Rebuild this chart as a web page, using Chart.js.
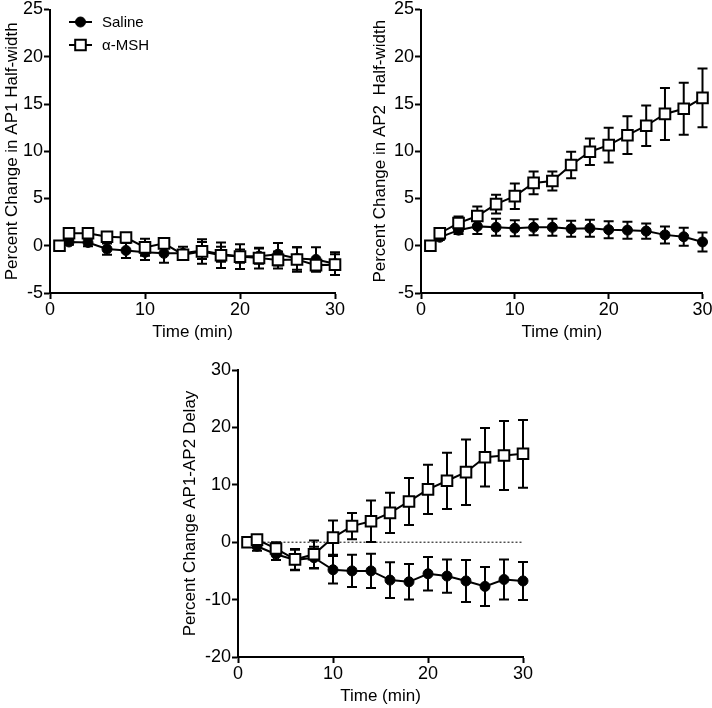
<!DOCTYPE html>
<html>
<head>
<meta charset="utf-8">
<script src="https://cdn.jsdelivr.net/npm/chart.js@4.4.1/dist/chart.umd.min.js"></script>
<style>
    body { margin: 0; background: #fff; width: 712px; height: 708px; position: relative; overflow: hidden; }
    canvas { position: absolute; }
</style>
</head>
<body>
<canvas id="ap1" width="356" height="345" style="left:0;top:0"></canvas>
<canvas id="ap2" width="356" height="345" style="left:356px;top:0"></canvas>
<canvas id="delay" width="360" height="363" style="left:180px;top:345px"></canvas>
<script>
// time points (min)
const minutes = [1, 2, 4, 6, 8, 10, 12, 14, 16, 18, 20, 22, 24, 26, 28, 30];

// AP1 half-width, % change
const salineAp1 = [0, 0.4, 0.35, -0.35, -0.5, -0.7, -0.8, -0.8, -0.5, -0.9, -1.1, -1.1, -0.9, -1.35, -1.45, -1.9];
const salineAp1Err = [0, 0.3, 0.4, 0.6, 0.8, 0.8, 1.0, 0.7, 0.9, 0.8, 0.7, 0.8, 1.2, 1.2, 1.3, 1.2];
const mshAp1 = [0, 1.33, 1.33, 0.95, 0.87, -0.17, 0.25, -0.95, -0.6, -1.0, -1.15, -1.3, -1.5, -1.45, -2.05, -2.0];
const mshAp1Err = [0, 0.3, 0.3, 0.4, 0.4, 0.9, 0.5, 0.4, 1.3, 1.35, 1.3, 1.1, 0.9, 1.3, 0.5, 1.1];

// AP2 half-width, % change
const salineAp2 = [0, 0.9, 1.65, 2.05, 1.95, 1.85, 1.95, 1.95, 1.8, 1.85, 1.7, 1.65, 1.55, 1.15, 0.95, 0.4];
const salineAp2Err = [0, 0.3, 0.4, 0.8, 0.9, 0.85, 0.85, 0.9, 0.85, 0.9, 0.9, 0.9, 0.8, 0.9, 0.95, 1.0];
const mshAp2 = [0, 1.33, 2.4, 3.15, 4.4, 5.25, 6.65, 6.85, 8.55, 9.95, 10.65, 11.7, 12.7, 13.95, 14.5, 15.65];
const mshAp2Err = [0, 0.3, 0.7, 1.0, 1.0, 1.35, 1.2, 1.0, 1.4, 1.4, 1.85, 2.0, 2.15, 2.75, 2.75, 3.1];

// AP1-AP2 delay, % change
const salineDelay = [0, -0.7, -2.1, -3.1, -2.7, -4.8, -5.0, -5.0, -6.6, -6.9, -5.5, -5.9, -6.75, -7.7, -6.5, -6.75];
const salineDelayErr = [0, 0.8, 1.0, 1.8, 1.9, 2.4, 2.8, 3.0, 3.1, 3.1, 2.9, 2.9, 3.65, 3.4, 3.5, 3.3];
const mshDelay = [0, 0.45, -1.1, -3.0, -2.1, 0.8, 2.8, 3.65, 5.1, 7.1, 9.2, 10.7, 12.2, 14.8, 15.1, 15.4];
const mshDelayErr = [0, 0.5, 1.1, 1.8, 2.4, 3.0, 2.3, 3.6, 3.5, 4.1, 4.3, 4.9, 5.7, 5.1, 6.0, 5.9];

// dotted zero reference in the delay panel
const baselineX = [1, 30];

const FONT = '"Liberation Sans", Arial, sans-serif';

const errorBars = {
    id: 'errorBars',
    beforeDatasetsDraw(chart) {
        const { ctx } = chart;
        const { x: xScale, y: yScale } = chart.scales;
        ctx.save();
        ctx.strokeStyle = '#000';
        ctx.lineWidth = 2;
        chart.data.datasets.forEach((ds) => {
            if (!ds.errors) return;
            ds.data.forEach((pt, i) => {
                const err = ds.errors[i];
                if (!err) return;
                const px = xScale.getPixelForValue(pt.x);
                const top = yScale.getPixelForValue(pt.y + err);
                const bottom = yScale.getPixelForValue(pt.y - err);
                ctx.beginPath();
                ctx.moveTo(px, top);
                ctx.lineTo(px, bottom);
                ctx.moveTo(px - 5, top);
                ctx.lineTo(px + 5, top);
                ctx.moveTo(px - 5, bottom);
                ctx.lineTo(px + 5, bottom);
                ctx.stroke();
            });
        });
        ctx.restore();
    },
};

const insetLegend = {
    id: 'insetLegend',
    afterDraw(chart, _args, opts) {
        const { ctx } = chart;
        const items = chart.data.datasets.filter((ds) => ds.errors);
        ctx.save();
        items.forEach((ds, i) => {
            const y = opts.top + i * opts.gap;
            ctx.strokeStyle = '#000';
            ctx.lineWidth = 2;
            ctx.beginPath();
            ctx.moveTo(opts.left, y);
            ctx.lineTo(opts.left + 23, y);
            ctx.stroke();
            ctx.fillStyle = ds.pointBackgroundColor;
            ctx.lineWidth = ds.pointBorderWidth;
            Chart.helpers.drawPoint(ctx, {
                pointStyle: ds.pointStyle,
                radius: ds.pointRadius,
                rotation: 0,
                borderWidth: ds.pointBorderWidth,
            }, opts.left + 11.5, y);
            ctx.fillStyle = '#000';
            ctx.font = `15px ${FONT}`;
            ctx.textBaseline = 'middle';
            ctx.fillText(ds.label, opts.left + 33, y + 1);
        });
        ctx.restore();
    },
};

const points = (values) => minutes.map((m, i) => ({ x: m, y: values[i] }));

const saline = (values, errors) => ({
    label: 'Saline',
    data: points(values),
    errors,
    borderColor: '#000',
    borderWidth: 2,
    pointStyle: 'circle',
    pointRadius: 5,
    pointBackgroundColor: '#000',
    pointBorderColor: '#000',
    pointBorderWidth: 1,
    tension: 0,
    clip: false,
    order: 1,
});

const msh = (values, errors) => ({
    label: 'α-MSH',
    data: points(values),
    errors,
    borderColor: '#000',
    borderWidth: 2,
    pointStyle: 'rect',
    pointRadius: 7.5,
    pointBackgroundColor: '#fff',
    pointBorderColor: '#000',
    pointBorderWidth: 2,
    tension: 0,
    clip: false,
    order: 0,
});

const makePanel = (id, cfg) => {
    const tickFont = { family: FONT, size: 18 };
    const titleFont = { family: FONT, size: 17, lineHeight: 1.2 };
    return new Chart(document.getElementById(id), {
        type: 'line',
        data: { datasets: cfg.datasets },
        plugins: [errorBars, insetLegend],
        options: {
            responsive: false,
            animation: false,
            events: [],
            layout: { padding: cfg.padding },
            plugins: {
                legend: { display: false },
                tooltip: { enabled: false },
                insetLegend: cfg.legend || false,
            },
            scales: {
                x: {
                    type: 'linear',
                    min: 0,
                    max: 30,
                    ticks: { stepSize: 10, color: '#000', font: tickFont, padding: 0 },
                    grid: { drawOnChartArea: false, tickLength: 6, tickColor: '#000', tickWidth: 2 },
                    border: { color: '#000', width: 2 },
                    title: { display: true, text: 'Time (min)', color: '#000', font: titleFont, padding: { top: 0, bottom: cfg.xTitlePad } },
                    afterFit(s) {
                        s.height = cfg.xHeight;
                        s.paddingLeft = 0;
                        s.paddingRight = 0;
                    },
                },
                y: {
                    min: cfg.yMin,
                    max: cfg.yMax,
                    ticks: { stepSize: cfg.yStep, color: '#000', font: tickFont, padding: 1 },
                    grid: { drawOnChartArea: false, tickLength: 6, tickColor: '#000', tickWidth: 2 },
                    border: { color: '#000', width: 2 },
                    title: { display: true, text: cfg.yTitle, color: '#000', font: titleFont, padding: { top: cfg.yTitlePad, bottom: 0 } },
                    afterFit(s) {
                        s.width = cfg.yWidth;
                        s.paddingTop = 0;
                        s.paddingBottom = 0;
                    },
                },
            },
        },
    });
};

makePanel('ap1', {
    datasets: [saline(salineAp1, salineAp1Err), msh(mshAp1, mshAp1Err)],
    padding: { top: 7, right: 21, left: 0, bottom: 0 },
    yWidth: 50,
    xHeight: 52,
    yTitlePad: 2,
    xTitlePad: 2,
    yMin: -5, yMax: 25, yStep: 5,
    yTitle: 'Percent Change in AP1 Half-width',
    legend: { left: 69, top: 22, gap: 23 },
});

makePanel('ap2', {
    datasets: [saline(salineAp2, salineAp2Err), msh(mshAp2, mshAp2Err)],
    padding: { top: 7, right: 9, left: 0, bottom: 0 },
    yWidth: 65,
    xHeight: 52,
    yTitlePad: 14,
    xTitlePad: 2,
    yMin: -5, yMax: 25, yStep: 5,
    yTitle: 'Percent Change in AP2  Half-width',
});

makePanel('delay', {
    datasets: [
        saline(salineDelay, salineDelayErr),
        msh(mshDelay, mshDelayErr),
        {
            data: baselineX.map((x) => ({ x, y: 0 })),
            borderColor: '#000',
            borderWidth: 1,
            borderDash: [2, 2],
            pointRadius: 0,
            order: 5,
        },
    ],
    padding: { top: 25, right: 17, left: 0, bottom: 0 },
    yWidth: 58,
    xHeight: 51,
    yTitlePad: 0,
    xTitlePad: 1,
    yMin: -20, yMax: 30, yStep: 10,
    yTitle: 'Percent Change AP1-AP2 Delay',
});
</script>
</body>
</html>
